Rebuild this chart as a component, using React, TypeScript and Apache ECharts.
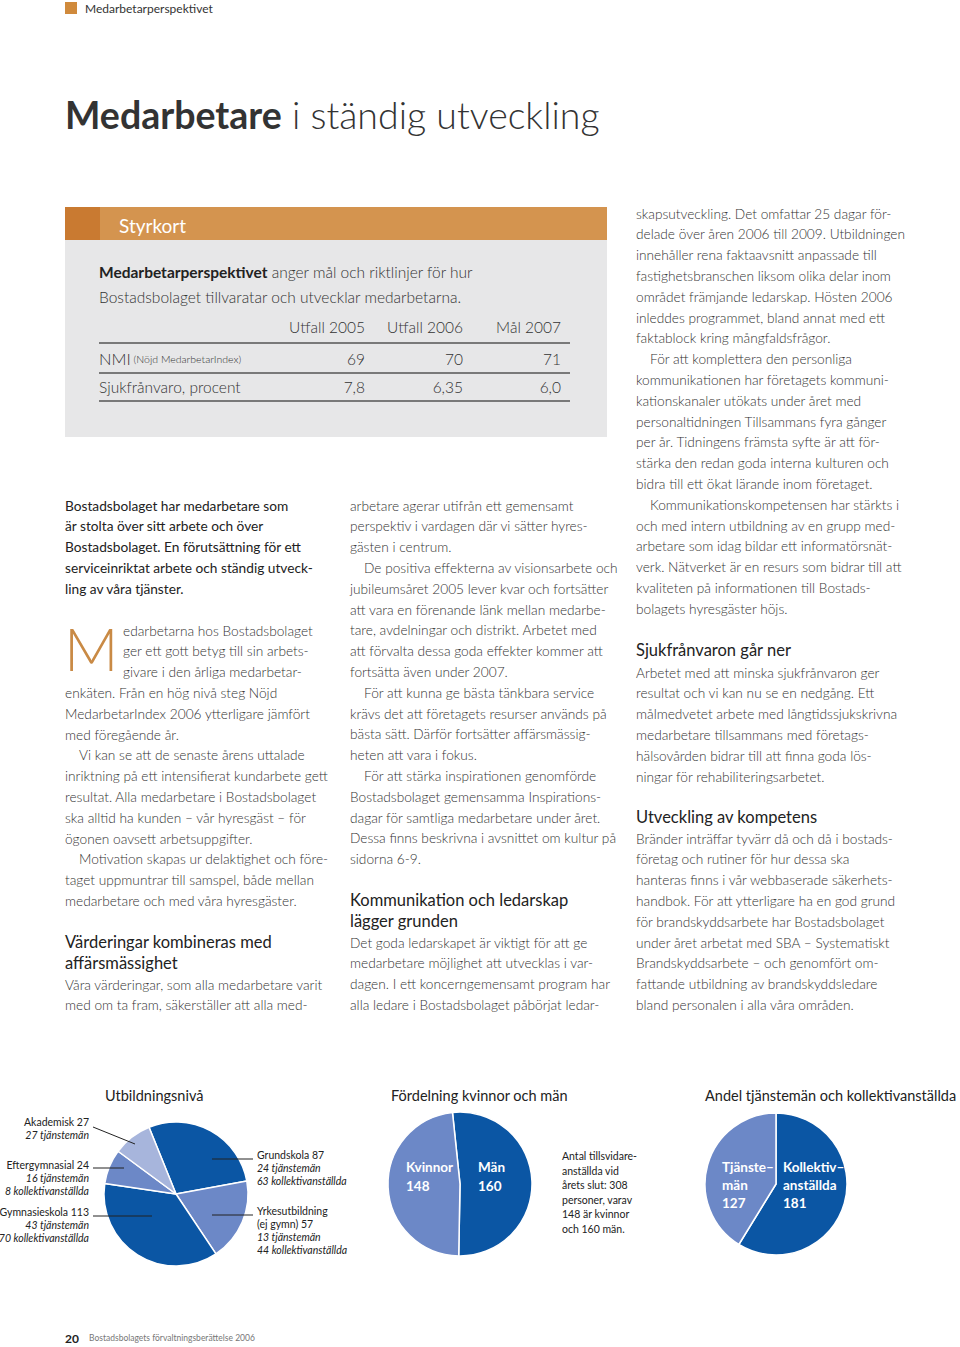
import React, { useEffect, useRef } from 'react';
import * as echarts from 'echarts';

// ---------- data ----------
const educationLevels = ['Grundskola', 'Yrkesutbildning\n(ej gymn)', 'Gymnasieskola', 'Eftergymnasial', 'Akademisk'];
const educationTotals = [87, 57, 113, 24, 27];
const educationTjm = [24, 13, 43, 16, 27];
const educationKoll = [63, 44, 70, 8, 0];

const genderNames = ['Män', 'Kvinnor'];
const genderValues = [160, 148];

const staffNames = ['Kollektivanställda', 'Tjänstemän'];
const staffLabels = [['Kollektiv–', 'anställda'], ['Tjänste–', 'män']];
const staffValues = [181, 127];

const scorecardHeaders = ['Utfall 2005', 'Utfall 2006', 'Mål 2007'];
const nmiValues = ['69', '70', '71'];
const sickLeaveValues = ['7,8', '6,35', '6,0'];

// ---------- text content ----------
const col1Lead = [
  'Bostadsbolaget har medarbetare som',
  'är stolta över sitt arbete och över',
  'Bostadsbolaget. En förutsättning för ett',
  'serviceinriktat arbete och ständig utveck-',
  'ling av våra tjänster.',
];
const col1Body = [
  '>edarbetarna hos Bostadsbolaget',
  '>ger ett gott betyg till sin arbets-',
  '>givare i den årliga medarbetar-',
  'enkäten. Från en hög nivå steg Nöjd',
  'MedarbetarIndex 2006 ytterligare jämfört',
  'med föregående år.',
  '\tVi kan se att de senaste årens uttalade',
  'inriktning på ett intensifierat kundarbete gett',
  'resultat. Alla medarbetare i Bostadsbolaget',
  'ska alltid ha kunden – vår hyresgäst – för',
  'ögonen oavsett arbetsuppgifter.',
  '\tMotivation skapas ur delaktighet och före-',
  'taget uppmuntrar till samspel, både mellan',
  'medarbetare och med våra hyresgäster.',
];
const col1Head = ['Värderingar kombineras med', 'affärsmässighet'];
const col1Tail = [
  'Våra värderingar, som alla medarbetare varit',
  'med om ta fram, säkerställer att alla med-',
];
const col2Body = [
  'arbetare agerar utifrån ett gemensamt',
  'perspektiv i vardagen där vi sätter hyres-',
  'gästen i centrum.',
  '\tDe positiva effekterna av visionsarbete och',
  'jubileumsåret 2005 lever kvar och fortsätter',
  'att vara en förenande länk mellan medarbe-',
  'tare, avdelningar och distrikt. Arbetet med',
  'att förvalta dessa goda effekter kommer att',
  'fortsätta även under 2007.',
  '\tFör att kunna ge bästa tänkbara service',
  'krävs det att företagets resurser används på',
  'bästa sätt. Därför fortsätter affärsmässig-',
  'heten att vara i fokus.',
  '\tFör att stärka inspirationen genomförde',
  'Bostadsbolaget gemensamma Inspirations-',
  'dagar för samtliga medarbetare under året.',
  'Dessa finns beskrivna i avsnittet om kultur på',
  'sidorna 6-9.',
];
const col2Head = ['Kommunikation och ledarskap', 'lägger grunden'];
const col2Tail = [
  'Det goda ledarskapet är viktigt för att ge',
  'medarbetare möjlighet att utvecklas i var-',
  'dagen. I ett koncerngemensamt program har',
  'alla ledare i Bostadsbolaget påbörjat ledar-',
];
const col3Body = [
  'skapsutveckling. Det omfattar 25 dagar för-',
  'delade över åren 2006 till 2009. Utbildningen',
  'innehåller rena faktaavsnitt anpassade till',
  'fastighetsbranschen liksom olika delar inom',
  'området främjande ledarskap. Hösten 2006',
  'inleddes programmet, bland annat med ett',
  'faktablock kring mångfaldsfrågor.',
  '\tFör att komplettera den personliga',
  'kommunikationen har företagets kommuni-',
  'kationskanaler utökats under året med',
  'personaltidningen Tillsammans fyra gånger',
  'per år. Tidningens främsta syfte är att för-',
  'stärka den redan goda interna kulturen och',
  'bidra till ett ökat lärande inom företaget.',
  '\tKommunikationskompetensen har stärkts i',
  'och med intern utbildning av en grupp med-',
  'arbetare som idag bildar ett informatörsnät-',
  'verk. Nätverket är en resurs som bidrar till att',
  'kvaliteten på informationen till Bostads-',
  'bolagets hyresgäster höjs.',
];
const col3Head1 = ['Sjukfrånvaron går ner'];
const col3Mid = [
  'Arbetet med att minska sjukfrånvaron ger',
  'resultat och vi kan nu se en nedgång. Ett',
  'målmedvetet arbete med långtidssjukskrivna',
  'medarbetare tillsammans med företags-',
  'hälsovården bidrar till att finna goda lös-',
  'ningar för rehabiliteringsarbetet.',
];
const col3Head2 = ['Utveckling av kompetens'];
const col3Tail = [
  'Bränder inträffar tyvärr då och då i bostads-',
  'företag och rutiner för hur dessa ska',
  'hanteras finns i vår webbaserade säkerhets-',
  'handbok. För att ytterligare ha en god grund',
  'för brandskyddsarbete har Bostadsbolaget',
  'under året arbetat med SBA – Systematiskt',
  'Brandskyddsarbete – och genomfört om-',
  'fattande utbildning av brandskyddsledare',
  'bland personalen i alla våra områden.',
];

// ---------- styling ----------
const FF = "Lato, 'Noto Sans', sans-serif";
const DARK = '#0b56a4';
const MID = '#6c88c7';
const LIGHT = '#a7b5dc';
const TEXT = '#333333';
const LH = 20.8;

function txt(x: number, y: number, text: string, o: any = {}) {
  return {
    type: 'text',
    x,
    y,
    silent: true,
    style: {
      text,
      fill: o.fill ?? TEXT,
      fontFamily: FF,
      fontSize: o.size ?? 13.7,
      fontWeight: o.weight ?? 300,
      fontStyle: o.style ?? 'normal',
      align: o.align ?? 'left',
      verticalAlign: 'middle',
      rich: o.rich,
    },
  };
}

function block(x: number, y0: number, lines: string[], o: any = {}) {
  return lines.map((line, i) => {
    let dx = 0;
    let t = line;
    if (t.startsWith('\t')) { dx = 14; t = t.slice(1); }
    if (t.startsWith('>')) { dx = 58; t = t.slice(1); }
    return txt(x + dx, y0 + i * LH, t, o);
  });
}

function buildOption() {
  const g: any[] = [];
  // header
  g.push({ type: 'rect', shape: { x: 65, y: 2, width: 12, height: 12 }, style: { fill: '#d08a3c' }, silent: true });
  g.push(txt(85, 8, 'Medarbetarperspektivet', { size: 12, weight: 400, fill: '#333' }));
  // title
  g.push({
    type: 'text', x: 65, y: 114, silent: true,
    style: {
      text: '{b|Medarbetare}{l| i ständig utveckling}',
      fill: '#333', fontFamily: FF, fontSize: 37.5, verticalAlign: 'middle',
      rich: {
        b: { fontFamily: FF, fontSize: 37.5, fontWeight: 'bold', fill: '#333' },
        l: { fontFamily: FF, fontSize: 37.5, fontWeight: 300, fill: '#333' },
      },
    },
  });
  // Styrkort box
  g.push({ type: 'rect', shape: { x: 65, y: 207, width: 542, height: 230 }, style: { fill: '#e7e7e8' }, silent: true });
  g.push({ type: 'rect', shape: { x: 65, y: 207, width: 542, height: 33 }, style: { fill: '#d4944f' }, silent: true });
  g.push({ type: 'rect', shape: { x: 65, y: 207, width: 35, height: 33 }, style: { fill: '#c97a31' }, silent: true });
  g.push(txt(119, 225, 'Styrkort', { size: 19, weight: 400, fill: '#fff' }));
  g.push({
    type: 'text', x: 99, y: 272, silent: true,
    style: {
      text: '{b|Medarbetarperspektivet}{l| anger mål och riktlinjer för hur}',
      fontFamily: FF, fontSize: 15.5, verticalAlign: 'middle',
      rich: {
        b: { fontFamily: FF, fontSize: 15.5, fontWeight: 'bold', fill: '#222' },
        l: { fontFamily: FF, fontSize: 15.5, fontWeight: 300, fill: '#333' },
      },
    },
  });
  g.push(txt(99, 297, 'Bostadsbolaget tillvaratar och utvecklar medarbetarna.', { size: 15.5 }));
  const colRight = [365, 463, 561];
  scorecardHeaders.forEach((h, i) => g.push(txt(colRight[i], 327, h, { size: 15.5, align: 'right' })));
  [343, 373, 401].forEach((y) => g.push({ type: 'line', shape: { x1: 99, y1: y, x2: 570, y2: y }, style: { stroke: '#555', lineWidth: 1.5 }, silent: true }));
  g.push({
    type: 'text', x: 99, y: 359, silent: true,
    style: {
      text: '{a|NMI}{s| (Nöjd MedarbetarIndex)}',
      fontFamily: FF, fontSize: 16, verticalAlign: 'middle',
      rich: {
        a: { fontFamily: FF, fontSize: 16.5, fontWeight: 300, fill: '#333' },
        s: { fontFamily: FF, fontSize: 10.5, fontWeight: 300, fill: '#333' },
      },
    },
  });
  g.push(txt(99, 387, 'Sjukfrånvaro, procent', { size: 15.5 }));
  nmiValues.forEach((v, i) => g.push(txt(colRight[i], 359, v, { size: 15.5, align: 'right' })));
  sickLeaveValues.forEach((v, i) => g.push(txt(colRight[i], 387, v, { size: 15.5, align: 'right' })));

  // Column 1
  g.push(...block(65, 505, col1Lead, { weight: 400, fill: '#222' }));
  g.push(txt(64, 648, 'M', { size: 60, weight: 300, fill: '#c98a45' }));
  g.push(...block(65, 630, col1Body));
  g.push(...block(65, 942, col1Head, { size: 16.5, weight: 400, fill: '#222' }));
  g.push(...block(65, 984, col1Tail));
  // Column 2
  g.push(...block(350, 505, col2Body));
  g.push(...block(350, 900, col2Head, { size: 16.5, weight: 400, fill: '#222' }));
  g.push(...block(350, 942, col2Tail));
  // Column 3
  g.push(...block(636, 213, col3Body));
  g.push(...block(636, 650, col3Head1, { size: 16.5, weight: 400, fill: '#222' }));
  g.push(...block(636, 672, col3Mid));
  g.push(...block(636, 817, col3Head2, { size: 16.5, weight: 400, fill: '#222' }));
  g.push(...block(636, 838, col3Tail));

  // Chart titles
  g.push(txt(105, 1095, 'Utbildningsnivå', { size: 14.5, weight: 400, fill: '#222' }));
  g.push(txt(391, 1095, 'Fördelning kvinnor och män', { size: 14.5, weight: 400, fill: '#222' }));
  g.push(txt(705, 1095, 'Andel tjänstemän och kollektivanställda', { size: 14.5, weight: 400, fill: '#222' }));

  // Education labels
  const eduPos = [
    { x: 257, y: 1155, align: 'left', line: [212, 1159, 253, 1159] },
    { x: 257, y: 1211, align: 'left', line: [212, 1215, 253, 1215] },
    { x: 89, y: 1212, align: 'right', line: [93, 1216, 152, 1216] },
    { x: 89, y: 1165, align: 'right', line: [93, 1168, 124, 1168] },
    { x: 89, y: 1122, align: 'right', line: [93, 1127, 135, 1144] },
  ];
  educationLevels.forEach((name, i) => {
    const p = eduPos[i];
    const head = `${name} ${educationTotals[i]}`.split('\n');
    const sub: string[] = [];
    if (educationTjm[i] > 0) sub.push(`${educationTjm[i]} tjänstemän`);
    if (educationKoll[i] > 0) sub.push(`${educationKoll[i]} kollektivanställda`);
    let y = p.y;
    head.forEach((h) => { g.push(txt(p.x, y, h, { size: 10.5, weight: 400, align: p.align, fill: '#222' })); y += 13; });
    sub.forEach((s) => { g.push(txt(p.x, y, s, { size: 10.5, weight: 400, style: 'italic', align: p.align, fill: '#222' })); y += 13; });
    g.push({ type: 'line', z: 10, shape: { x1: p.line[0], y1: p.line[1], x2: p.line[2], y2: p.line[3] }, style: { stroke: '#222', lineWidth: 1 }, silent: true });
  });

  // Gender labels
  const gPos = [{ x: 478 }, { x: 406 }];
  genderNames.forEach((n, i) => {
    g.push({ ...txt(gPos[i].x, 1167, n, { size: 13.5, weight: 'bold', fill: '#fff' }), z: 10 });
    g.push({ ...txt(gPos[i].x, 1186, String(genderValues[i]), { size: 13.5, weight: 'bold', fill: '#fff' }), z: 10 });
  });
  const total = genderValues[0] + genderValues[1];
  const note = [
    'Antal tillsvidare-',
    'anställda vid',
    `årets slut: ${total}`,
    'personer, varav',
    `${genderValues[1]} är kvinnor`,
    `och ${genderValues[0]} män.`,
  ];
  note.forEach((l, i) => g.push(txt(562, 1156 + i * 14.6, l, { size: 10.5, weight: 400, fill: '#222' })));

  // Staff labels
  const sPos = [{ x: 783 }, { x: 722 }];
  staffLabels.forEach((lab, i) => {
    const lines = [...lab, String(staffValues[i])];
    lines.forEach((l, k) => g.push({ ...txt(sPos[i].x, 1167 + k * 18, l, { size: 13.5, weight: 'bold', fill: '#fff' }), z: 10 }));
  });

  // Footer
  g.push(txt(65, 1338, '20', { size: 12, weight: 'bold', fill: '#222' }));
  g.push(txt(89, 1338, 'Bostadsbolagets förvaltningsberättelse 2006', { size: 8.5, weight: 400, fill: '#777' }));

  const pieBase = {
    type: 'pie',
    silent: true,
    clockwise: true,
    label: { show: false },
    labelLine: { show: false },
    itemStyle: { borderColor: '#fff', borderWidth: 1.5 },
    emphasis: { disabled: true },
  };
  const eduColors = [DARK, MID, DARK, MID, LIGHT];

  return {
    animation: false,
    backgroundColor: '#fff',
    graphic: { elements: g },
    series: [
      {
        ...pieBase,
        center: [176, 1194],
        radius: 72,
        startAngle: 112,
        data: educationLevels.map((n, i) => ({ name: n, value: educationTotals[i], itemStyle: { color: eduColors[i] } })),
      },
      {
        ...pieBase,
        center: [460, 1184],
        radius: 72,
        startAngle: 96,
        data: genderNames.map((n, i) => ({ name: n, value: genderValues[i], itemStyle: { color: i === 0 ? DARK : MID } })),
      },
      {
        ...pieBase,
        center: [776, 1184],
        radius: 71,
        startAngle: 90,
        data: staffNames.map((n, i) => ({ name: n, value: staffValues[i], itemStyle: { color: i === 0 ? DARK : MID } })),
      },
    ],
  };
}

export default function App() {
  const ref = useRef<HTMLDivElement>(null);
  useEffect(() => {
    const chart = echarts.init(ref.current as HTMLDivElement, null, { renderer: 'svg' });
    chart.setOption(buildOption() as any);
    return () => chart.dispose();
  }, []);
  return (
    <div
      ref={ref}
      style={{ position: 'absolute', left: 0, top: 0, width: 960, height: 1347, background: '#fff' }}
    />
  );
}
